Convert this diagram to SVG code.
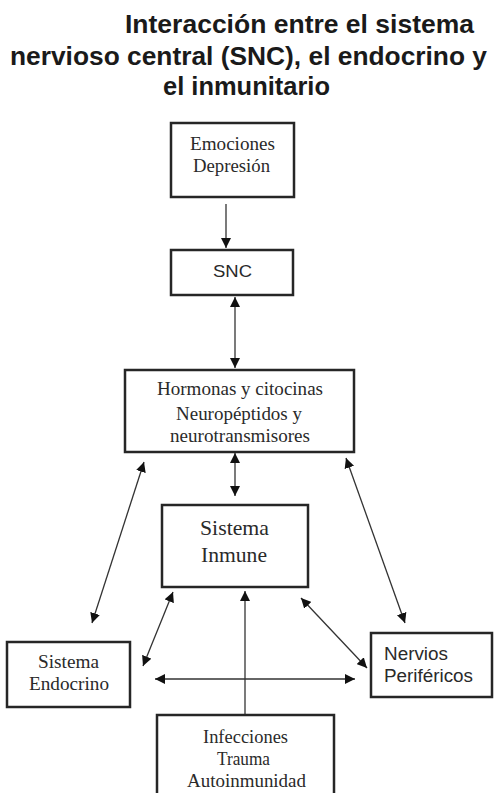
<svg xmlns="http://www.w3.org/2000/svg" width="495" height="793" viewBox="0 0 495 793">
<style>
.title{font-family:"Liberation Sans",Arial,sans-serif;font-weight:bold;font-size:26px;fill:#1a1a1a}
.box{fill:#fff;stroke:#262626;stroke-width:2.5}
.serif{font-family:"Liberation Serif","Times New Roman",serif;fill:#2a2a2a}
.sans{font-family:"Liberation Sans",Arial,sans-serif;fill:#2a2a2a}
.conn{stroke:#333;stroke-width:1.3;fill:none}
</style>
<defs>
<marker id="ah" viewBox="0 0 10 10" refX="10" refY="5" markerWidth="10" markerHeight="10" markerUnits="userSpaceOnUse" orient="auto-start-reverse">
<path d="M0,0 L10,5 L0,10 z" fill="#111"/>
</marker>
</defs>
<rect width="495" height="793" fill="#fff"/>
<g id="title">
<text class="title" x="125" y="33" textLength="349" lengthAdjust="spacingAndGlyphs">Interacción entre el sistema</text>
<text class="title" x="10" y="65" textLength="477" lengthAdjust="spacingAndGlyphs">nervioso central (SNC), el endocrino y</text>
<text class="title" x="163" y="95" textLength="167" lengthAdjust="spacingAndGlyphs">el inmunitario</text>
</g>
<g id="connectors">
<line class="conn" x1="226" y1="204" x2="226" y2="248" marker-end="url(#ah)"/>
<line class="conn" x1="235" y1="297" x2="235" y2="368" marker-start="url(#ah)" marker-end="url(#ah)"/>
<line class="conn" x1="235" y1="453" x2="235" y2="496" marker-start="url(#ah)" marker-end="url(#ah)"/>
<line class="conn" x1="144" y1="462" x2="92" y2="623" marker-start="url(#ah)" marker-end="url(#ah)"/>
<line class="conn" x1="346" y1="458" x2="405" y2="623" marker-start="url(#ah)" marker-end="url(#ah)"/>
<line class="conn" x1="173" y1="592" x2="143" y2="666" marker-start="url(#ah)" marker-end="url(#ah)"/>
<line class="conn" x1="301" y1="598" x2="367" y2="668" marker-start="url(#ah)" marker-end="url(#ah)"/>
<line class="conn" x1="155" y1="679" x2="355" y2="679" marker-start="url(#ah)" marker-end="url(#ah)"/>
<line class="conn" x1="245" y1="715" x2="245" y2="591" marker-end="url(#ah)"/>
</g>
<g id="emociones">
<rect class="box" x="171" y="123" width="123" height="74"/>
<text class="serif" font-size="18" x="190" y="150" textLength="85" lengthAdjust="spacingAndGlyphs">Emociones</text>
<text class="serif" font-size="18" x="193" y="172" textLength="77" lengthAdjust="spacingAndGlyphs">Depresión</text>
</g>
<g id="snc">
<rect class="box" x="171" y="250" width="122" height="45"/>
<text class="sans" font-size="17" x="213" y="277" textLength="39" lengthAdjust="spacingAndGlyphs">SNC</text>
</g>
<g id="hormonas">
<rect class="box" x="125" y="370" width="229" height="82"/>
<text class="serif" font-size="18.5" x="157" y="395" textLength="166" lengthAdjust="spacingAndGlyphs">Hormonas y citocinas</text>
<text class="serif" font-size="18.5" x="176" y="420" textLength="126" lengthAdjust="spacingAndGlyphs">Neuropéptidos y</text>
<text class="serif" font-size="18.5" x="170" y="442" textLength="140" lengthAdjust="spacingAndGlyphs">neurotransmisores</text>
</g>
<g id="inmune">
<rect class="box" x="162" y="505" width="146" height="82"/>
<text class="serif" font-size="22" x="200" y="535" textLength="69" lengthAdjust="spacingAndGlyphs">Sistema</text>
<text class="serif" font-size="22" x="201" y="562" textLength="66" lengthAdjust="spacingAndGlyphs">Inmune</text>
</g>
<g id="endocrino">
<rect class="box" x="7" y="642" width="123" height="65"/>
<text class="serif" font-size="18.5" x="38" y="668" textLength="61" lengthAdjust="spacingAndGlyphs">Sistema</text>
<text class="serif" font-size="18.5" x="29" y="690" textLength="80" lengthAdjust="spacingAndGlyphs">Endocrino</text>
</g>
<g id="nervios">
<rect class="box" x="371" y="633" width="121" height="64"/>
<text class="sans" font-size="18" x="384" y="660" textLength="64" lengthAdjust="spacingAndGlyphs">Nervios</text>
<text class="sans" font-size="18" x="384" y="682" textLength="89" lengthAdjust="spacingAndGlyphs">Periféricos</text>
</g>
<g id="infecciones">
<rect class="box" x="157" y="715" width="177" height="90"/>
<text class="serif" font-size="18" x="203" y="743" textLength="85" lengthAdjust="spacingAndGlyphs">Infecciones</text>
<text class="serif" font-size="18" x="217" y="765" textLength="53" lengthAdjust="spacingAndGlyphs">Trauma</text>
<text class="serif" font-size="18" x="187" y="787" textLength="119" lengthAdjust="spacingAndGlyphs">Autoinmunidad</text>
</g>
</svg>
